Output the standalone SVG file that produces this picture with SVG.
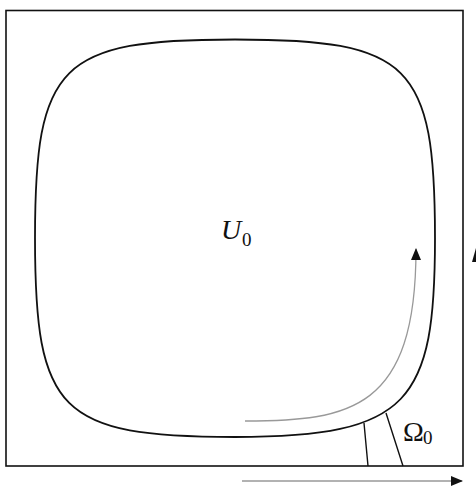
<svg xmlns="http://www.w3.org/2000/svg" width="476" height="487" viewBox="0 0 476 487">
<style>
.frame{fill:none;stroke:#111;stroke-width:1.6}
.blob{fill:none;stroke:#111;stroke-width:1.8}
.thin{fill:none;stroke:#111;stroke-width:1.4}
.grey{fill:none;stroke:#999;stroke-width:1.3}
.lbl{font-family:"Liberation Serif","DejaVu Serif",serif;fill:#111}
</style>
<defs>
<marker id="ah" markerWidth="12" markerHeight="10" refX="11" refY="5" orient="auto" markerUnits="userSpaceOnUse">
<path d="M0,0 L12,5 L0,10 Z" fill="#111"/>
</marker>
</defs>
<rect id="frame" class="frame" x="6" y="10.5" width="457" height="455.5"/>
<g id="U0">
<path class="blob" d="M435,238 C435,402 410,437 235,437 C59.6,437 35,412.5 35,238 C35,63.5 59.6,39.5 235,39.5 C410.4,39.5 435,63.5 435,238 Z"/>
<text class="lbl" x="221" y="239" font-size="28" font-style="italic">U</text>
<text class="lbl" x="242" y="246" font-size="19">0</text>
</g>
<g id="Omega0">
<path class="thin" d="M364,423 L368,466 M386,413 L403,466"/>
<text class="lbl" x="403" y="441" font-size="28">Ω</text>
<text class="lbl" x="423" y="444" font-size="19">0</text>
</g>
<g id="connectors">
<path class="grey" d="M245,421 C350,421 416,410 416,249" marker-end="url(#ah)"/>
<path class="grey" d="M242,481 L462,481" marker-end="url(#ah)"/>
<path d="M476,248 L472,262 L480,262 Z" fill="#111"/>
</g>
</svg>
